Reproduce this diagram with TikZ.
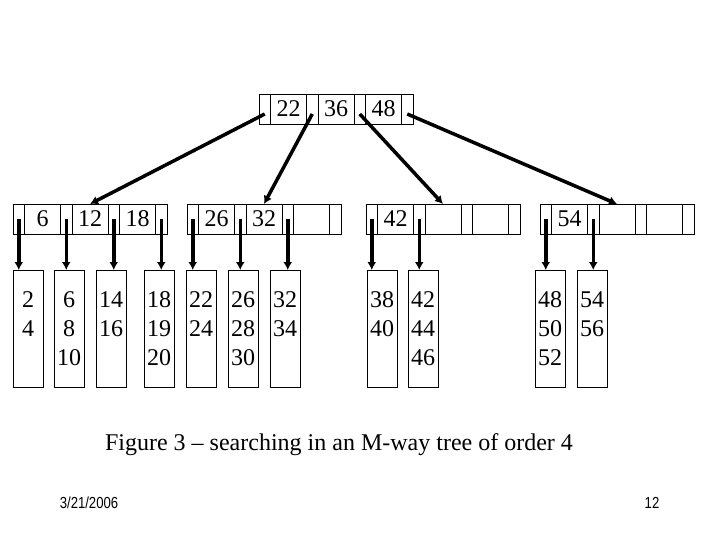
\documentclass[tikz,border=0pt]{standalone}
\usepackage{fontspec}
\setmainfont{Liberation Serif}
\newfontfamily\footfont{Liberation Sans}
\usepackage{tikz}
\usetikzlibrary{arrows.meta,positioning}

% one node of the M-way tree: pointer, key, pointer, key, pointer, key, pointer
\newcommand{\mwaynode}[5]{%
  \node[ptr,anchor=west] (#1-p0) at (#2) {};
  \node[key,right=0pt of #1-p0] (#1-k1) {#3};
  \node[ptr,right=0pt of #1-k1] (#1-p1) {};
  \node[key,right=0pt of #1-p1] (#1-k2) {#4};
  \node[ptr,right=0pt of #1-k2] (#1-p2) {};
  \node[key,right=0pt of #1-p2] (#1-k3) {#5};
  \node[ptr,right=0pt of #1-k3] (#1-p3) {};
}
\newcommand{\keylist}[1]{\begin{tabular}[t]{@{}c@{}}#1\end{tabular}}

\begin{document}
\begin{tikzpicture}[x=1pt,y=-1pt,>={Latex[length=8pt,width=9pt]},
                    font=\fontsize{24}{29}\selectfont]
  \tikzstyle{ptr}=[draw,line width=0.8pt,outer sep=0pt,inner sep=0pt,
                   minimum width=11.5pt,minimum height=30pt]
  \tikzstyle{key}=[ptr,minimum width=36pt]
  \tikzstyle{leaf}=[draw,line width=0.8pt,anchor=north,outer sep=0pt,
                    inner sep=0pt,minimum width=30pt,
                    text height=37pt,text depth=80pt]
  \tikzstyle{link}=[->,line width=3.5pt]
  \tikzstyle{footer}=[font=\footfont\fontsize{16}{18}\selectfont]

  \useasboundingbox (0,0) rectangle (720,540);

  % root and second level
  \mwaynode{r}{259,109}{22}{36}{48}
  \mwaynode{a}{13,219}{6}{12}{18}
  \mwaynode{b}{187,219}{26}{32}{}
  \mwaynode{c}{366,219}{42}{}{}
  \mwaynode{d}{540,219}{54}{}{}

  % leaves
  \node[leaf] (l1)  at (28,270)  {\keylist{2\\4}};
  \node[leaf] (l2)  at (69,270)  {\keylist{6\\8\\10}};
  \node[leaf] (l3)  at (111,270) {\keylist{14\\16}};
  \node[leaf] (l4)  at (159,270) {\keylist{18\\19\\20}};
  \node[leaf] (l5)  at (201,270) {\keylist{22\\24}};
  \node[leaf] (l6)  at (243,270) {\keylist{26\\28\\30}};
  \node[leaf] (l7)  at (285,270) {\keylist{32\\34}};
  \node[leaf] (l8)  at (382,270) {\keylist{38\\40}};
  \node[leaf] (l9)  at (423,270) {\keylist{42\\44\\46}};
  \node[leaf] (l10) at (550,270) {\keylist{48\\50\\52}};
  \node[leaf] (l11) at (592,270) {\keylist{54\\56}};

  % root pointers
  \draw[link] ([yshift=-5pt]r-p0.center) -- (a-k2.north);
  \draw[link] ([yshift=-5pt]r-p1.center) -- (b-k2.north);
  \draw[link] ([yshift=-5pt]r-p2.center) -- (c-k2.north);
  \draw[link] ([yshift=-5pt]r-p3.center) -- (d-k2.north);

  % pointers down to the leaves
  \draw[link] (a-p0.center) -- (a-p0.center |- l1.north);
  \draw[link] (a-p1.center) -- (a-p1.center |- l2.north);
  \draw[link] (a-p2.center) -- (a-p2.center |- l3.north);
  \draw[link] (a-p3.center) -- (a-p3.center |- l4.north);
  \draw[link] (b-p0.center) -- (b-p0.center |- l5.north);
  \draw[link] (b-p1.center) -- (b-p1.center |- l6.north);
  \draw[link] (b-p2.center) -- (b-p2.center |- l7.north);
  \draw[link] (c-p0.center) -- (c-p0.center |- l8.north);
  \draw[link] (c-p1.center) -- (c-p1.center |- l9.north);
  \draw[link] (d-p0.center) -- (d-p0.center |- l10.north);
  \draw[link] (d-p1.center) -- (d-p1.center |- l11.north);

  \node (caption) at (339,445) {Figure 3 – searching in an M-way tree of order 4};
  \node[footer] (date) at (89,503) {\scalebox{0.82}[1]{3/21/2006}};
  \node[footer] (page) at (652,503) {\scalebox{0.82}[1]{12}};
\end{tikzpicture}
\end{document}
